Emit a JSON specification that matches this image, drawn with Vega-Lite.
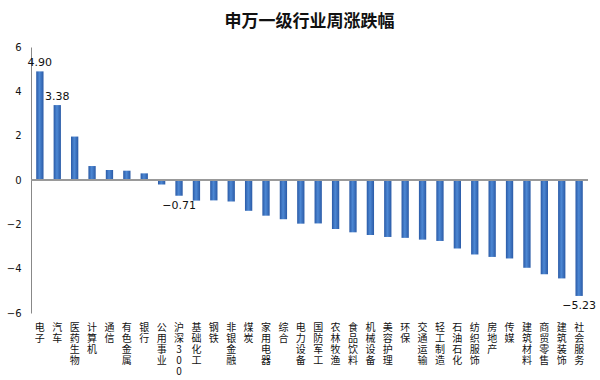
{
  "$schema": "https://vega.github.io/schema/vega-lite/v6.json",
  "width": 557,
  "height": 266,
  "padding": {"left": 6, "top": 13, "right": 6, "bottom": 0},
  "background": "white",
  "title": {
    "text": "申万一级行业周涨跌幅",
    "font": "Noto Sans CJK SC",
    "fontSize": 17,
    "fontWeight": "bold",
    "color": "#111",
    "anchor": "middle",
    "offset": 11
  },
  "config": {
    "view": {"stroke": null},
    "font": "Noto Sans CJK SC"
  },
  "data": {
    "values": [
      {"industry": "电子", "change": 4.90},
      {"industry": "汽车", "change": 3.38},
      {"industry": "医药生物", "change": 1.96},
      {"industry": "计算机", "change": 0.63},
      {"industry": "通信", "change": 0.45},
      {"industry": "有色金属", "change": 0.42},
      {"industry": "银行", "change": 0.30},
      {"industry": "公用事业", "change": -0.20},
      {"industry": "沪深300", "change": -0.71},
      {"industry": "基础化工", "change": -0.93},
      {"industry": "钢铁", "change": -0.92},
      {"industry": "非银金融", "change": -0.97},
      {"industry": "煤炭", "change": -1.39},
      {"industry": "家用电器", "change": -1.61},
      {"industry": "综合", "change": -1.77},
      {"industry": "电力设备", "change": -1.97},
      {"industry": "国防军工", "change": -1.96},
      {"industry": "农林牧渔", "change": -2.21},
      {"industry": "食品饮料", "change": -2.36},
      {"industry": "机械设备", "change": -2.48},
      {"industry": "美容护理", "change": -2.57},
      {"industry": "环保", "change": -2.61},
      {"industry": "交通运输", "change": -2.69},
      {"industry": "轻工制造", "change": -2.75},
      {"industry": "石油石化", "change": -3.09},
      {"industry": "纺织服饰", "change": -3.36},
      {"industry": "房地产", "change": -3.47},
      {"industry": "传媒", "change": -3.54},
      {"industry": "建筑材料", "change": -3.96},
      {"industry": "商贸零售", "change": -4.25},
      {"industry": "建筑装饰", "change": -4.44},
      {"industry": "社会服务", "change": -5.23}
    ]
  },
  "encoding": {
    "x": {
      "field": "industry",
      "type": "nominal",
      "sort": null,
      "scale": {"paddingInner": 0.58, "paddingOuter": 0.3},
      "axis": {
        "title": null,
        "domain": false,
        "ticks": false,
        "labelAngle": 0,
        "labelAlign": "center",
        "labelBaseline": "top",
        "labelExpr": "split(datum.label, '')",
        "labelFontSize": 10,
        "labelLineHeight": 11,
        "labelColor": "#111",
        "labelPadding": 9,
        "labelOverlap": false,
        "labelFont": "Noto Sans CJK SC"
      }
    },
    "y": {
      "field": "change",
      "type": "quantitative",
      "scale": {"domain": [-6, 6], "nice": false},
      "axis": {
        "title": null,
        "values": [-6, -4, -2, 0, 2, 4, 6],
        "grid": false,
        "ticks": false,
        "domainColor": "#888",
        "labelFontSize": 10,
        "labelColor": "#111",
        "labelPadding": 10,
        "labelFont": "DejaVu Sans"
      }
    }
  },
  "layer": [
    {
      "mark": {
        "type": "bar",
        "color": {
          "gradient": "linear",
          "x1": 0, "x2": 1, "y1": 0, "y2": 0,
          "stops": [
            {"offset": 0, "color": "#2a5aa6"},
            {"offset": 0.45, "color": "#4d88d4"},
            {"offset": 1, "color": "#2a5aa6"}
          ]
        }
      }
    },
    {
      "mark": {"type": "rule", "color": "#999", "strokeWidth": 1},
      "encoding": {"y": {"datum": 0}, "x": null}
    },
    {
      "transform": [{"filter": "datum.change > 0 && (datum.industry == '电子' || datum.industry == '汽车')"}],
      "mark": {"type": "text", "baseline": "bottom", "dy": -3, "fontSize": 11, "color": "#111", "font": "DejaVu Sans"},
      "encoding": {"text": {"field": "change", "type": "quantitative", "format": ".2f"}}
    },
    {
      "transform": [{"filter": "datum.industry == '沪深300' || datum.industry == '社会服务'"}],
      "mark": {"type": "text", "baseline": "top", "dy": 4, "fontSize": 11, "color": "#111", "font": "DejaVu Sans"},
      "encoding": {"text": {"field": "change", "type": "quantitative", "format": ".2f"}}
    }
  ]
}
